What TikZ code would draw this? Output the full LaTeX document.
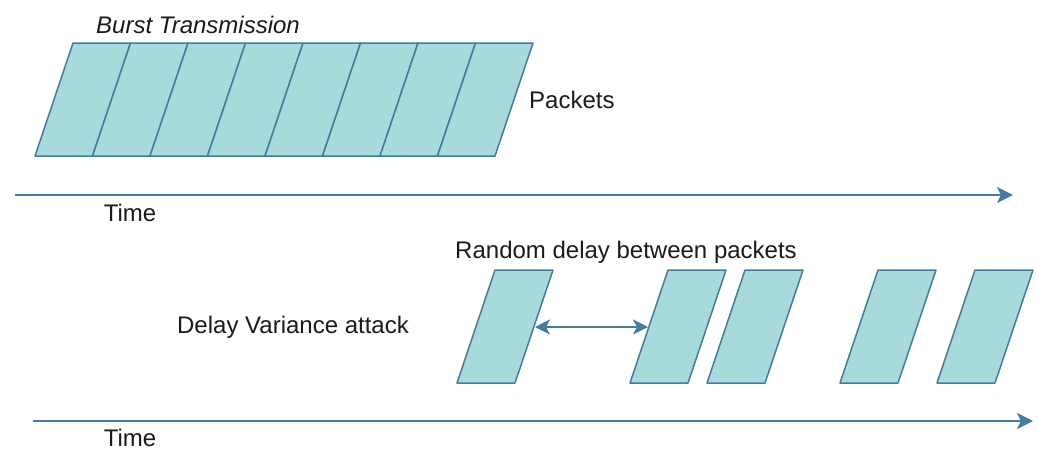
\documentclass[tikz,border=0pt]{standalone}
\usepackage{fontspec}
\setmainfont{Liberation Sans}
\usetikzlibrary{arrows.meta}
\definecolor{pktfill}{HTML}{A8DADC}
\definecolor{pktline}{HTML}{457B9D}
\definecolor{txt}{HTML}{1A1A1A}
\begin{document}
\begin{tikzpicture}[x=1pt,y=-1pt,
  pkt/.style={draw=pktline,fill=pktfill,line width=1.5pt,line join=round},
  tip/.style={Stealth[length=16pt,width=16pt,inset=4pt]},
  axis/.style={draw=pktline,line width=2pt,-{Stealth[length=16pt,width=16pt,inset=4pt]}},
  delay/.style={draw=pktline,line width=2pt,{Stealth[length=15pt,width=15pt,inset=4pt]}-{Stealth[length=15pt,width=15pt,inset=4pt]}},
  lbl/.style={font=\fontsize{24}{28}\selectfont,text=txt,inner sep=0pt}]
\useasboundingbox (0,0) rectangle (1038,450);
% burst of packets
\foreach \i in {0,...,7}
  \draw[pkt] (73+57.5*\i,43) -- ++(57.5,0) -- ++(-38,113) -- ++(-57.5,0) -- cycle;
% spread packets
\foreach \x in {495,668,745,878,975}
  \draw[pkt] (\x,270) -- ++(58,0) -- ++(-38,113) -- ++(-58,0) -- cycle;
% labels
\node[lbl,font=\fontsize{24}{28}\selectfont\itshape] (burst) at (198,25) {Burst Transmission};
\node[lbl,anchor=west] (packets) at (529,100) {Packets};
\node[lbl] (time1) at (130,213) {Time};
\node[lbl] (random) at (626,252) {Random delay between packets};
\node[lbl] (dva) at (293,327) {Delay Variance attack};
\node[lbl] (time2) at (130,438) {Time};
% axes
\coordinate (t1s) at (15,195);
\coordinate (t1e) at (1013,195);
\coordinate (t2s) at (33,421);
\coordinate (t2e) at (1033,421);
\draw[axis] (t1s) -- (t1e);
\draw[axis] (t2s) -- (t2e);
% delay arrow
\coordinate (d1) at (535,327);
\coordinate (d2) at (648,327);
\draw[delay] (d1) -- (d2);
\end{tikzpicture}
\end{document}
